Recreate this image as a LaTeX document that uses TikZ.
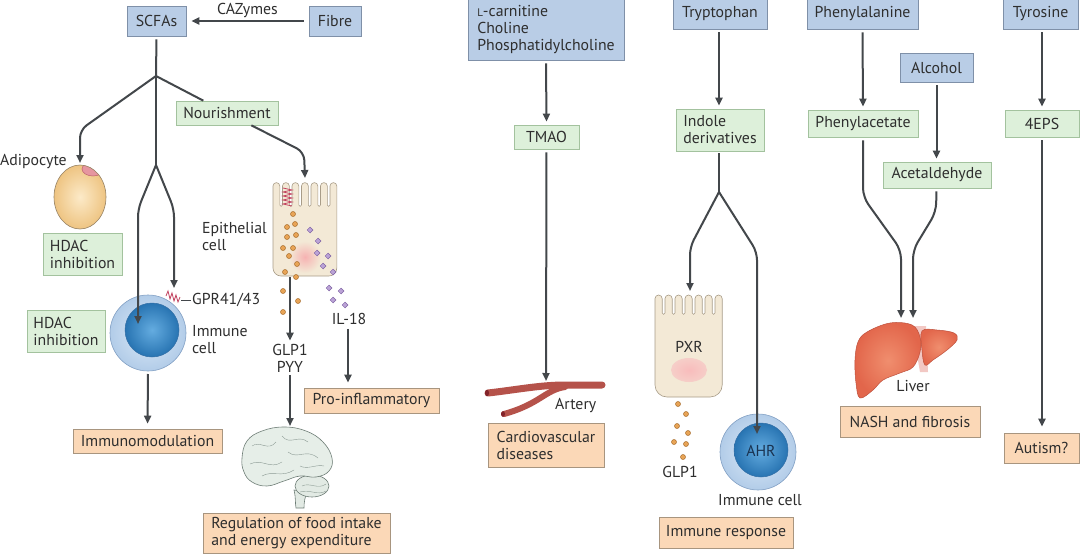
\documentclass[tikz,border=0pt]{standalone}
\usepackage{fontspec}
\setmainfont{PT Sans}
\usetikzlibrary{arrows.meta,calc,shapes.geometric}
\definecolor{bluef}{HTML}{B9CDE6}
\definecolor{blued}{HTML}{7F90A8}
\definecolor{greenf}{HTML}{DDF0DA}
\definecolor{greend}{HTML}{A3C29E}
\definecolor{orangef}{HTML}{FBD8B7}
\definecolor{oranged}{HTML}{A8957F}
\definecolor{txt}{HTML}{2E2E2E}
\definecolor{arrc}{HTML}{43474B}
\definecolor{beige}{HTML}{F3E9D6}
\definecolor{beiged}{HTML}{A89C88}
\definecolor{dotor}{HTML}{E8A456}
\definecolor{dotord}{HTML}{A86E2E}
\definecolor{dotpu}{HTML}{BBA3D6}
\definecolor{dotpud}{HTML}{7E62A4}
\definecolor{coilred}{HTML}{C2415E}
\definecolor{liverc}{HTML}{E2664B}
\definecolor{liverl}{HTML}{F08E6E}
\definecolor{liverd}{HTML}{BE503C}
\definecolor{liverp}{HTML}{F2C8C4}
\definecolor{arteryc}{HTML}{B5524A}
\definecolor{arteryd}{HTML}{82232A}
\definecolor{adin}{HTML}{FCEAC8}
\definecolor{adout}{HTML}{EEC482}
\definecolor{adline}{HTML}{968264}
\definecolor{adpink}{HTML}{E696A0}
\definecolor{adpinkd}{HTML}{BE646E}
\definecolor{imin}{HTML}{DCEAF8}
\definecolor{imout}{HTML}{B2CCE8}
\definecolor{imline}{HTML}{82A0C4}
\definecolor{nucin}{HTML}{64ACE0}
\definecolor{nucout}{HTML}{2874B2}
\definecolor{nucline}{HTML}{326EA5}
\definecolor{epink}{HTML}{F6B2B2}
\definecolor{pxrpink}{HTML}{F8BCBC}
\definecolor{pxrpout}{HTML}{F6CEC8}
\definecolor{brainl}{HTML}{6E7D76}
\definecolor{brainf}{HTML}{E2EAE4}
\definecolor{brainf2}{HTML}{E6EEE8}
\definecolor{gyri}{HTML}{8C9B94}
\definecolor{ahrtxt}{HTML}{193250}
\newcommand\fsz{\fontsize{15.8}{17}\selectfont}
\newcommand\mybox[7]{\node[#2, minimum width={#5-#3}, minimum height={#6-#4}] (#1) at ({(#3+#5)/2},{(#4+#6)/2}) {#7};}
\tikzset{
  box/.style={draw, line width=0.7pt, inner sep=0pt, font=\fsz, text=txt, align=left},
  bbox/.style={box, fill=bluef, draw=blued},
  gbox/.style={box, fill=greenf, draw=greend},
  obox/.style={box, fill=orangef, draw=oranged},
  lbl/.style={font=\fsz, text=txt, inner sep=0pt, align=left},
  ln/.style={draw=arrc, line width=2pt, rounded corners=7pt},
  arr/.style={ln, -{Triangle[length=8pt,width=7pt]}},
  odot/.style={circle, draw=dotord, fill=dotor, line width=0.5pt, minimum size=5pt, inner sep=0pt},
  pdot/.style={diamond, draw=dotpud, fill=dotpu, line width=0.5pt, minimum size=6pt, inner sep=0pt},
  epicell/.style={draw=beiged, fill=beige, line width=0.6pt},
  coil/.style={draw=coilred, line width=0.8pt},
}
\begin{document}
\begin{tikzpicture}[x=1pt,y=-1pt]
\useasboundingbox (0,0) rectangle (1080,554);
\fill[white] (0,0) rectangle (1080,554);

% ---------- boxes ----------
\mybox{scfa}{bbox}{127}{6}{186}{36}{SCFAs}
\mybox{fibre}{bbox}{309}{6}{361}{36}{Fibre}
\mybox{nour}{gbox}{176}{101}{278}{125}{Nourishment}
\mybox{hdaca}{gbox}{43}{233}{122}{275}{HDAC\\inhibition}
\mybox{hdacb}{gbox}{27}{310}{105}{352}{HDAC\\inhibition}
\mybox{immod}{obox}{73}{429}{222}{453}{Immunomodulation}
\mybox{regul}{obox}{203}{513}{390}{553}{Regulation of food intake\\and energy expenditure}
\mybox{proinf}{obox}{304}{388}{439}{413}{Pro-inflammatory}
\mybox{lcarn}{bbox}{468}{-1}{624}{60}{{\fontsize{11}{11}\selectfont L}-carnitine\\Choline\\Phosphatidylcholine}
\mybox{tmao}{gbox}{514}{125}{579}{149}{TMAO}
\mybox{cardio}{obox}{488}{423}{604}{467}{Cardiovascular\\diseases}
\mybox{tryp}{bbox}{673}{-1}{767}{29}{Tryptophan}
\mybox{indole}{gbox}{676}{109}{764}{151}{Indole\\derivatives}
\mybox{immresp}{obox}{659}{517}{793}{548}{Immune response}
\mybox{phe}{bbox}{807}{-1}{918}{29}{Phenylalanine}
\mybox{alc}{bbox}{900}{53}{973}{82}{Alcohol}
\mybox{phac}{gbox}{808}{110}{918}{137}{Phenylacetate}
\mybox{acet}{gbox}{883}{162}{991}{188}{Acetaldehyde}
\mybox{nash}{obox}{840}{406}{980}{437}{NASH and fibrosis}
\mybox{tyr}{bbox}{1003}{-1}{1078}{29}{Tyrosine}
\mybox{eps}{gbox}{1005}{110}{1079}{137}{4EPS}
\mybox{autism}{obox}{1004}{433}{1079}{463}{Autism?}

% ---------- adipocyte ----------
\begin{scope}
  \clip (80,197) ellipse[x radius=26, y radius=32];
  \shade[inner color=adin, outer color=adout] (80,197) ellipse[x radius=26, y radius=32];
  \fill[adpink] (93,169) ellipse[x radius=11, y radius=7];
  \draw[adpinkd, line width=0.5pt] (93,169) ellipse[x radius=11, y radius=7];
\end{scope}
\draw[adline, line width=0.6pt] (80,197) ellipse[x radius=26, y radius=32];
\coordinate (adipotop) at (80,163);
\node[lbl, anchor=west] (adipolbl) at (0,162) {Adipocyte};

% ---------- left immune cell ----------
\shade[inner color=imin, outer color=imout] (148,333) circle[radius=38];
\draw[imline, line width=0.6pt] (148,333) circle[radius=38];
\shade[inner color=nucin, outer color=nucout] (152,330) circle[radius=27];
\draw[nucline, line width=0.5pt] (152,330) circle[radius=27];
\coordinate (imma) at (148,333);
\coordinate (immain) at (138,324);
\coordinate (gpr) at (174,288);
\draw[coil] (166,296) -- (168,291) -- (170,299) -- (172,293) -- (174,301) -- (176,295) -- (178,302) -- (180,297);
\draw[arrc, line width=0.6pt] (181,300) -- (191,300);
\node[lbl, anchor=west] (gprlbl) at (192,300) {GPR41/43};
\node[lbl, anchor=west] (immalbl) at (192,340) {Immune\\cell};

% ---------- epithelial cell ----------
\path[epicell] (273,268) -- (273,205)
  \foreach \k in {1,...,6}{ -- ++(0,-19) arc[start angle=180,end angle=360,radius=3.4] -- ++(0,19) arc[start angle=180,end angle=0,radius=1.35] }
  -- ++(0,-19) arc[start angle=180,end angle=360,radius=3.4] -- ++(0,19)
  -- (336.8,268) arc[start angle=0,end angle=90,radius=8] -- (281,276) arc[start angle=90,end angle=180,radius=8] -- cycle;
\shade[inner color=epink, outer color=beige] (305,257) circle[radius=16];
\draw[coil] (283,188) -- (292,190) -- (283,192) -- (292,194) -- (283,196) -- (292,198) -- (283,200) -- (292,202) -- (283,204) -- (292,206);
\coordinate (epitop) at (305,178);
\coordinate (epibot) at (290,277);
\node[lbl, anchor=west] (epilbl) at (202,236) {Epithelial\\cell};
\foreach \p in {(293,214),(287,227),(295,224),(287,237),(296,235),(283,248),(293,248),(289,256),(297,264),(285,272),(296,277),(283,291),(298,301),(283,312)}
  \node[odot] at \p {};
\foreach \p in {(310,230),(318,241),(317,253),(328,256),(323,266),(333,272),(329,288),(341,291),(333,300),(345,305)}
  \node[pdot] at \p {};

\node[lbl, align=center] (glp) at (290,358) {GLP1\\PYY};
\node[lbl] (il18) at (349,319) {IL-18};

% ---------- brain ----------
\coordinate (braintop) at (290,426);
\draw[brainl, fill=brainf, line width=0.6pt]
  (294,490) .. controls (296,498) and (295,503) .. (296,508) -- (304,508) .. controls (304,502) and (305,497) .. (307,492) -- cycle;
\draw[brainl, fill=brainf, line width=0.6pt] (312,486) ellipse[x radius=17, y radius=11];
\draw[brainl, fill=brainf2, line width=0.6pt]
  plot[smooth cycle, tension=0.7] coordinates {(242,458) (247,441) (262,431) (284,427) (306,431) (323,442) (332,458) (329,471) (316,477) (300,476) (284,481) (267,486) (252,482) (244,472)};
\begin{scope}[draw=gyri, line width=0.4pt]
  \draw (252,446) .. controls (260,440) and (268,452) .. (276,442);
  \draw (282,436) .. controls (290,446) and (298,434) .. (308,442);
  \draw (250,464) .. controls (262,458) and (270,470) .. (282,462);
  \draw (288,452) .. controls (298,460) and (306,448) .. (318,458);
  \draw (262,476) .. controls (272,470) and (282,478) .. (294,470);
  \draw (300,466) .. controls (308,470) and (316,464) .. (324,466);
  \draw (302,486) .. controls (310,482) and (318,490) .. (326,484);
  \draw (300,492) .. controls (310,489) and (318,496) .. (326,491);
\end{scope}

% ---------- artery ----------
\draw[arteryc, line width=7pt, line cap=round] (488,393) .. controls (515,390) and (540,385) .. (565,385) -- (602,385);
\draw[arteryc, line width=6pt, line cap=round] (565,387) .. controls (545,390) and (540,404) .. (504,414);
\fill[arteryd] (487,393) ellipse[x radius=2, y radius=3.3];
\fill[arteryd] (503,414) ellipse[x radius=2, y radius=2.8];
\coordinate (arttop) at (546,381);
\node[lbl, anchor=west] (artlbl) at (555,405) {Artery};

% ---------- PXR cell ----------
\path[epicell] (655,385) -- (655,313)
  \foreach \k in {1,...,6}{ -- ++(0,-14.4) arc[start angle=180,end angle=360,radius=3.6] -- ++(0,14.4) arc[start angle=180,end angle=0,radius=1.4] }
  -- ++(0,-14.4) arc[start angle=180,end angle=360,radius=3.6] -- ++(0,14.4)
  -- (722.2,385) arc[start angle=0,end angle=90,radius=12] -- (667,397) arc[start angle=90,end angle=180,radius=12] -- cycle;
\shade[inner color=pxrpink, outer color=pxrpout] (689,370) ellipse[x radius=18, y radius=12];
\node[lbl] (pxr) at (689,347) {PXR};
\coordinate (pxrtop) at (690,291);
\foreach \p in {(678,404),(686,414),(677,426),(688,433),(674,442),(686,444),(683,457)}
  \node[odot] at \p {};
\node[lbl] (glpb) at (680,472) {GLP1};

% ---------- AHR immune cell ----------
\shade[inner color=imin, outer color=imout] (758,452) circle[radius=38];
\draw[imline, line width=0.6pt] (758,452) circle[radius=38];
\shade[inner color=nucin, outer color=nucout] (761,450) circle[radius=27];
\draw[nucline, line width=0.5pt] (761,450) circle[radius=27];
\node[lbl, text=ahrtxt] (ahr) at (761,451) {AHR};
\coordinate (ahrin) at (757,434);
\node[lbl] (immblbl) at (760,500) {Immune cell};

% ---------- liver ----------
\fill[liverp] (912,326) -- (926,326) -- (928,372) -- (920,372) -- cycle;
\fill[liverp] (876,372) ellipse[x radius=7, y radius=6];
\shade[inner color=liverl, outer color=liverc, draw=liverd, line width=0.5pt]
  plot[smooth cycle, tension=0.6] coordinates {(922,331) (937,330) (954,333) (957,340) (947,350) (933,360) (925,365) (922,350)};
\shade[inner color=liverl, outer color=liverc, draw=liverd, line width=0.5pt]
  plot[smooth cycle, tension=0.6] coordinates {(867,332) (890,323) (912,325) (920,337) (920,352) (913,367) (900,373) (883,380) (873,390) (860,398) (856,383) (855,360) (858,342)};
\coordinate (livertop) at (907,318);
\node[lbl] (liverlbl) at (913,386) {Liver};

% ---------- connectors ----------
\draw[arr, shorten <=5pt, shorten >=5pt] (fibre.west) -- node[lbl, above=2pt] (caz) {CAZymes} (scfa.east);
\coordinate (j1) at (156,76);
\coordinate (j2) at (156,165);
\draw[ln, shorten <=3pt] (scfa.south) -- (j1);
\draw[arr, rounded corners=8pt] (j1) -- (80,130) -- (adipotop);
\draw[ln] (j1) -- (j2);
\draw[arr, rounded corners=8pt] (j2) -- (138,209) -- (immain);
\draw[arr, rounded corners=8pt] (j2) -- (174,209) -- (gpr);
\draw[ln] (j1) -- (nour);
\draw[arr, rounded corners=8pt] (nour) -- (304,152) -- (epitop);
\draw[arr, shorten <=2pt, shorten >=5pt] (imma |- 0,372) -- (immod.north);
\draw[arr, shorten >=3pt] (epibot) -- (glp.north);
\draw[arr, shorten <=3pt] (glp.south) -- (braintop);
\draw[arr, shorten <=4pt, shorten >=5pt] (il18.south -| 348,0) -- (348,0 |- proinf.north);
\draw[arr, shorten <=3pt, shorten >=3pt] (lcarn.south) -- (tmao.north);
\draw[arr, shorten <=3pt] (tmao.south) -- (arttop);
\draw[arr, shorten <=3pt, shorten >=3pt] (tryp.south -| 719,0) -- (719,0 |- indole.north);
\coordinate (j3) at (719,192);
\draw[ln, shorten <=2pt] (719,0 |- indole.south) -- (j3);
\draw[arr, rounded corners=8pt] (j3) -- (690,247) -- (pxrtop);
\draw[arr, rounded corners=8pt] (j3) -- (757,252) -- (ahrin);
\draw[arr, shorten <=3pt, shorten >=3pt] (phe.south) -- (phac.north);
\draw[arr, shorten <=3pt, shorten >=3pt] (alc.south) -- (alc.south |- acet.north);
\draw[arr, shorten <=3pt, shorten >=3pt] (1042,0 |- tyr.south) -- (1042,0 |- eps.north);
\draw[arr, rounded corners=9pt, shorten <=3pt] (phac.south) -- (863,197) -- (901,250) -- (901,0 |- livertop);
\draw[arr, rounded corners=9pt, shorten <=3pt] (alc.south |- acet.south) -- (936,212) -- (913,250) -- (913,0 |- livertop);
\draw[arr, shorten <=3pt, shorten >=6pt] (1042,0 |- eps.south) -- (1042,0 |- autism.north);
\end{tikzpicture}
\end{document}
